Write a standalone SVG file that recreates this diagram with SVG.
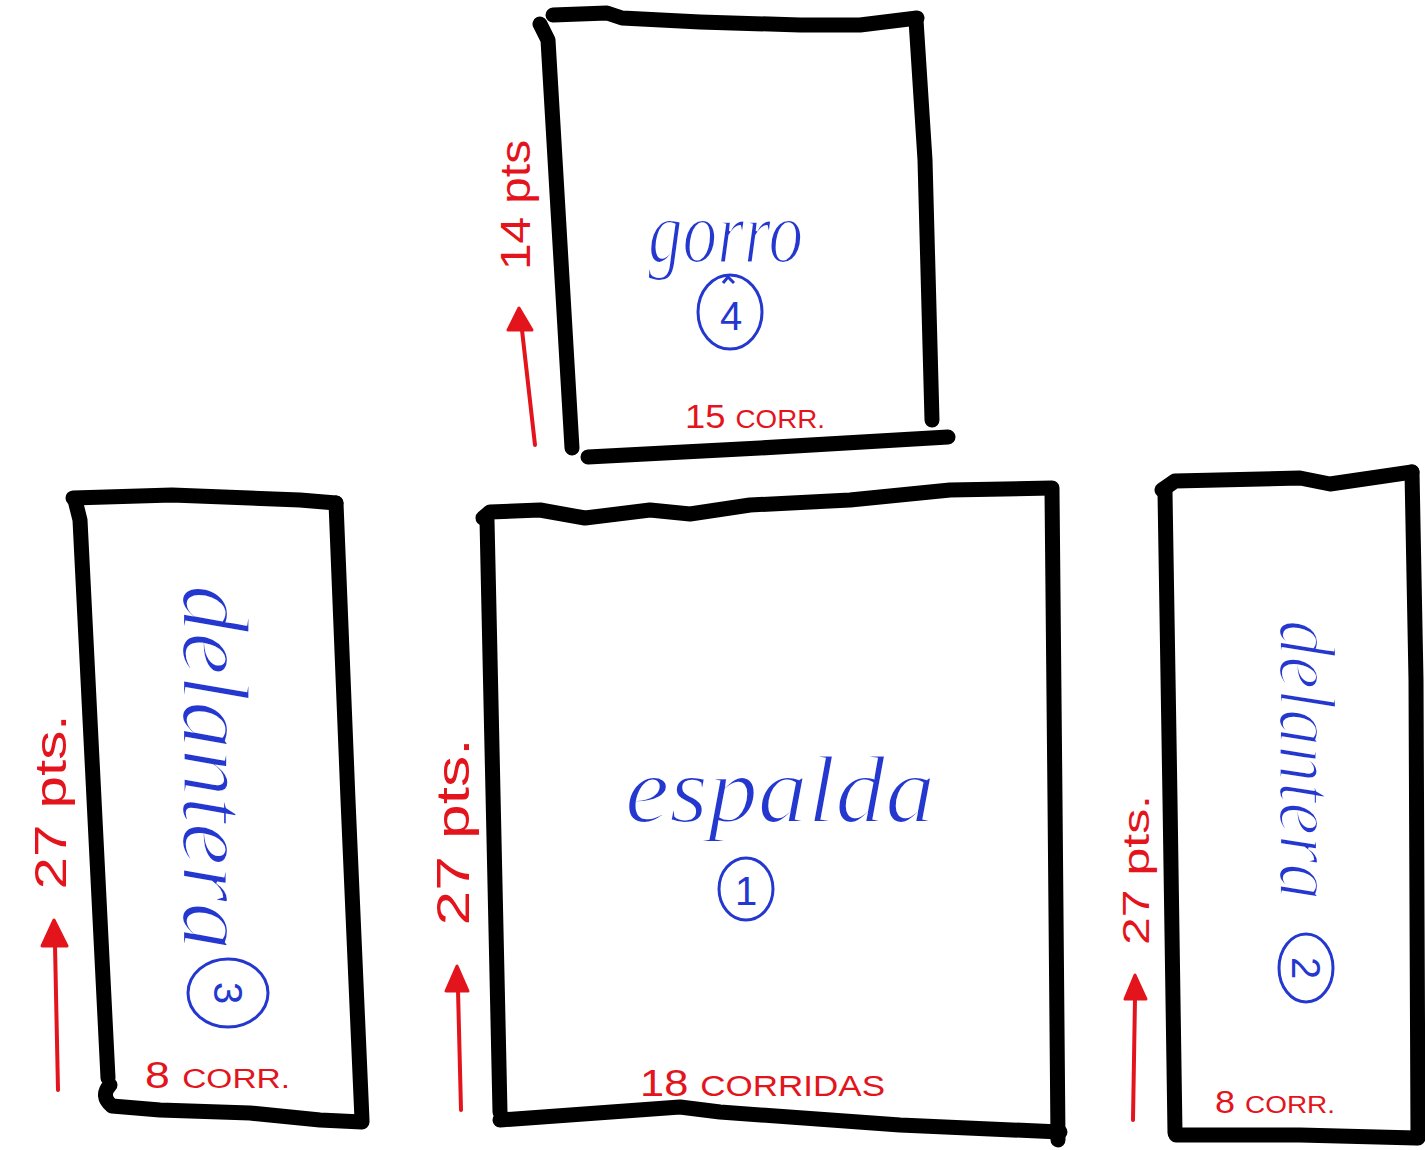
<svg xmlns="http://www.w3.org/2000/svg" width="1425" height="1150" viewBox="0 0 1425 1150">
  <style>
    .edge { fill: none; stroke: #000; stroke-width: 15; stroke-linecap: round; stroke-linejoin: round; }
    .name { fill: #2438d0; stroke: #fff; stroke-width: 2.2; paint-order: normal; font-family: "Liberation Serif", serif; font-style: italic; }
    .num  { fill: #2438d0; font-family: "Liberation Sans", sans-serif; font-size: 40px; text-anchor: middle; dominant-baseline: central; }
    .ring { fill: none; stroke: #2438d0; stroke-width: 3; }
    .meas { fill: #e3141c; font-family: "Liberation Sans", sans-serif; }
    .dim  { fill: none; stroke: #e3141c; stroke-width: 4; stroke-linecap: round; }
    .head { fill: #e3141c; stroke: #e3141c; stroke-width: 3; stroke-linejoin: round; }
  </style>
  <rect width="1425" height="1150" fill="#fff"/>

  <!-- hood panel -->
  <g id="gorro">
    <path class="edge" d="M553,15 L607,13 L622,18 L700,22 L800,25 L860,25 L917,18"/>
    <path class="edge" d="M540,24 L548,40 L572,448"/>
    <path class="edge" d="M916,20 L925,160 L932,420"/>
    <path class="edge" d="M588,457 L760,448 L948,437"/>
    <text class="name" x="648" y="262" font-size="88" textLength="155" lengthAdjust="spacingAndGlyphs">gorro</text>
    <ellipse class="ring" cx="730" cy="312" rx="32" ry="37"/>
    <path class="ring" d="M723,283 L728,277 L734,283" stroke-width="2"/>
    <text class="num" x="731" y="316">4</text>
    <text class="meas" x="685" y="428" font-size="34" textLength="140" lengthAdjust="spacingAndGlyphs">15 <tspan font-size="26">CORR.</tspan></text>
  </g>

  <!-- left front panel -->
  <g id="delantera-3">
    <path class="edge" d="M73,498 L172,495 L300,500 L336,503"/>
    <path class="edge" d="M75,500 L80,520 L108,1078"/>
    <path class="edge" d="M336,503 L348,800 L362,1120"/>
    <path class="edge" d="M110,1085 Q100,1096 112,1106 L160,1110 L250,1113 L320,1120 L362,1122"/>
    <text class="name" transform="translate(183,585) rotate(90)" font-size="95" textLength="365" lengthAdjust="spacingAndGlyphs">delantera</text>
    <ellipse class="ring" cx="228" cy="993" rx="40" ry="34"/>
    <text class="num" transform="translate(228,993) rotate(90)">3</text>
    <text class="meas" x="145" y="1088" font-size="36" textLength="145" lengthAdjust="spacingAndGlyphs">8 <tspan font-size="27">CORR.</tspan></text>
  </g>

  <!-- back panel -->
  <g id="espalda">
    <path class="edge" d="M483,518 L490,512 L540,510 L585,518 L650,510 L690,514 L750,505 L850,500 L950,490 L1052,488"/>
    <path class="edge" d="M487,520 L500,1112"/>
    <path class="edge" d="M1052,490 L1055,800 L1058,1140"/>
    <path class="edge" d="M500,1120 L680,1107 L720,1112 L900,1125 L1060,1132"/>
    <text class="name" x="625" y="822" font-size="95" textLength="310" lengthAdjust="spacingAndGlyphs">espalda</text>
    <ellipse class="ring" cx="746" cy="889" rx="27" ry="31"/>
    <text class="num" x="746" y="891" font-size="34">1</text>
    <text class="meas" x="640" y="1096" font-size="36" textLength="245" lengthAdjust="spacingAndGlyphs">18 <tspan font-size="29">CORRIDAS</tspan></text>
  </g>

  <!-- right front panel -->
  <g id="delantera-2">
    <path class="edge" d="M1162,490 L1175,481 L1300,478 L1330,484 L1412,472"/>
    <path class="edge" d="M1165,492 L1170,800 L1175,1133"/>
    <path class="edge" d="M1412,472 L1416,680 L1418,1138"/>
    <path class="edge" d="M1176,1135 L1300,1135 L1416,1138"/>
    <text class="name" transform="translate(1280,620) rotate(90)" font-size="80" textLength="280" lengthAdjust="spacingAndGlyphs">delantera</text>
    <ellipse class="ring" cx="1306" cy="968" rx="27" ry="34"/>
    <text class="num" transform="translate(1306,968) rotate(90)" font-size="36">2</text>
    <text class="meas" x="1215" y="1113" font-size="31" textLength="120" lengthAdjust="spacingAndGlyphs">8 <tspan font-size="24">CORR.</tspan></text>
  </g>

  <!-- row counts with arrows -->
  <g id="connectors">
    <path class="dim" d="M535,445 L522,330"/>
    <path class="head" d="M519,308 L508,330 L532,330 Z"/>
    <text class="meas" transform="translate(530,205) rotate(-90)" font-size="42" text-anchor="middle" textLength="130" lengthAdjust="spacingAndGlyphs">14 pts</text>

    <path class="dim" d="M58,1090 L55,945"/>
    <path class="head" d="M54,920 L42,946 L67,946 Z"/>
    <text class="meas" transform="translate(66,802) rotate(-90)" font-size="44" text-anchor="middle" textLength="175" lengthAdjust="spacingAndGlyphs">27 pts.</text>

    <path class="dim" d="M461,1110 L458,990"/>
    <path class="head" d="M457,966 L446,991 L468,991 Z"/>
    <text class="meas" transform="translate(469,832) rotate(-90)" font-size="46" text-anchor="middle" textLength="187" lengthAdjust="spacingAndGlyphs">27 pts.</text>

    <path class="dim" d="M1133,1120 L1135,998"/>
    <path class="head" d="M1135,975 L1125,999 L1146,999 Z"/>
    <text class="meas" transform="translate(1149,870) rotate(-90)" font-size="36" text-anchor="middle" textLength="150" lengthAdjust="spacingAndGlyphs">27 pts.</text>
  </g>
</svg>
